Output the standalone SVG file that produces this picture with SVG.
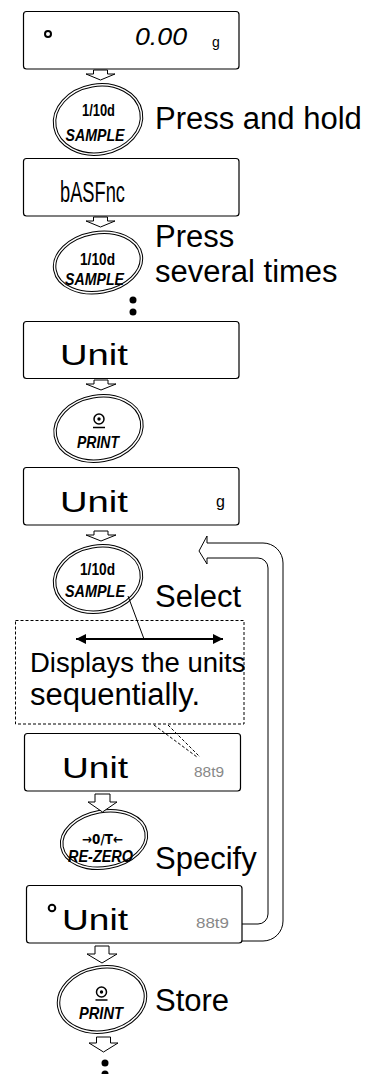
<svg xmlns="http://www.w3.org/2000/svg" width="370" height="1074" viewBox="0 0 370 1074">
<style>
.disp{fill:#fff;stroke:#000;stroke-width:1.2}
.seg{font-family:"Liberation Sans",Arial,sans-serif;fill:#000}
.unit{font-family:"Liberation Sans",Arial,sans-serif;fill:#888;font-size:14px}
.btn{fill:none;stroke:#000;stroke-width:1}
.bt{font-family:"Liberation Sans",Arial,sans-serif;font-weight:bold;fill:#000;text-anchor:middle}
.bi{font-style:italic}
.lbl{font-family:"Liberation Sans",Arial,sans-serif;fill:#000;font-size:31px}
.blk{fill:#fff;stroke:#000;stroke-width:1}
.ln{fill:none;stroke:#000;stroke-width:1}
.dash{fill:none;stroke:#000;stroke-width:1;stroke-dasharray:3,2}
.dot{fill:#000}
</style>
<defs>
<marker id="ah" viewBox="0 0 10 10" refX="10" refY="5" markerWidth="5" markerHeight="5" orient="auto-start-reverse">
<path d="M0,0 L10,5 L0,10 Z" fill="#000"/>
</marker>
</defs>

<g id="display1">
<rect class="disp" x="23.5" y="11.5" width="215.5" height="57.5" rx="3"/>
<circle cx="48" cy="34" r="3" fill="none" stroke="#000" stroke-width="2"/>
<text class="seg" x="135" y="45" font-size="23" font-style="italic" textLength="52" lengthAdjust="spacingAndGlyphs">0.00</text>
<text class="seg" x="212" y="47" font-size="14">g</text>
</g>

<g id="button1">
<ellipse class="btn" cx="98" cy="119.5" rx="45" ry="35.5" transform="rotate(-10 98 119.5)"/>
<ellipse class="btn" cx="98" cy="119.5" rx="42.5" ry="33" transform="rotate(-10 98 119.5)"/>
<text class="bt" x="98.5" y="116" font-size="16" textLength="33" lengthAdjust="spacingAndGlyphs">1/10d</text>
<text class="bt bi" x="95" y="141" font-size="17" textLength="59" lengthAdjust="spacingAndGlyphs">SAMPLE</text>
</g>
<g id="label1"><text class="lbl" x="155" y="129">Press and hold</text></g>

<g id="display2">
<rect class="disp" x="23.5" y="158.5" width="215.5" height="57.5" rx="3"/>
<text class="seg" x="60" y="202" font-size="29" textLength="65" lengthAdjust="spacingAndGlyphs">bASFnc</text>
</g>

<g id="button2">
<ellipse class="btn" cx="98" cy="262.5" rx="45" ry="31" transform="rotate(-10 98 262.5)"/>
<ellipse class="btn" cx="98" cy="262.5" rx="42.5" ry="28.5" transform="rotate(-10 98 262.5)"/>
<text class="bt" x="97.5" y="265" font-size="16" textLength="35" lengthAdjust="spacingAndGlyphs">1/10d</text>
<text class="bt bi" x="94.5" y="285" font-size="17" textLength="59" lengthAdjust="spacingAndGlyphs">SAMPLE</text>
</g>
<g id="label2">
<text class="lbl" x="155" y="247">Press</text>
<text class="lbl" x="155" y="282">several times</text>
</g>
<g id="dots1">
<circle class="dot" cx="133" cy="300" r="3.5"/>
<circle class="dot" cx="133" cy="312" r="3.5"/>
</g>

<g id="display3">
<rect class="disp" x="23.5" y="321.5" width="215.5" height="57" rx="3"/>
<text class="seg" x="60" y="365" font-size="30" textLength="68" lengthAdjust="spacingAndGlyphs">Unit</text>
</g>

<g id="button3">
<ellipse class="btn" cx="98.5" cy="428.5" rx="45" ry="33.5" transform="rotate(-10 98.5 428.5)"/>
<ellipse class="btn" cx="98.5" cy="428.5" rx="42.5" ry="31" transform="rotate(-10 98.5 428.5)"/>
<circle cx="99" cy="419" r="5" fill="none" stroke="#000" stroke-width="1.5"/>
<circle cx="99" cy="419" r="1.7" fill="#000"/>
<line x1="93" y1="427.5" x2="105" y2="427.5" stroke="#000" stroke-width="1.5"/>
<text class="bt bi" x="98" y="448" font-size="17" textLength="42" lengthAdjust="spacingAndGlyphs">PRINT</text>
</g>

<g id="display4">
<rect class="disp" x="23.5" y="467.5" width="215.5" height="57.5" rx="3"/>
<text class="seg" x="60" y="512" font-size="30" textLength="68" lengthAdjust="spacingAndGlyphs">Unit</text>
<text class="seg" x="216" y="507" font-size="16">g</text>
</g>

<g id="button4">
<ellipse class="btn" cx="98" cy="579" rx="45" ry="34" transform="rotate(-10 98 579)"/>
<ellipse class="btn" cx="98" cy="579" rx="42.5" ry="31.5" transform="rotate(-10 98 579)"/>
<text class="bt" x="97.5" y="575" font-size="16" textLength="35" lengthAdjust="spacingAndGlyphs">1/10d</text>
<text class="bt bi" x="95" y="597" font-size="17" textLength="60" lengthAdjust="spacingAndGlyphs">SAMPLE</text>
</g>
<g id="label4"><text class="lbl" x="155" y="607">Select</text></g>

<g id="note">
<rect class="dash" x="15.5" y="620.5" width="228.5" height="103.5"/>
<text class="lbl" x="30" y="672" style="font-size:27.5px">Displays the units</text>
<text class="lbl" x="30" y="705">sequentially.</text>
</g>

<g id="display5">
<rect class="disp" x="24.5" y="733.5" width="216" height="57.5" rx="3"/>
<text class="seg" x="62" y="778" font-size="30" textLength="66" lengthAdjust="spacingAndGlyphs">Unit</text>
<text class="unit" x="194" y="777" textLength="30" lengthAdjust="spacingAndGlyphs">88t9</text>
</g>

<g id="button5">
<ellipse class="btn" cx="104" cy="839.5" rx="44" ry="29.5" transform="rotate(-10 104 839.5)"/>
<ellipse class="btn" cx="104" cy="839.5" rx="41.5" ry="27" transform="rotate(-10 104 839.5)"/>
<text class="bt" x="102.5" y="844" font-size="14" textLength="41" lengthAdjust="spacingAndGlyphs" style="font-family:'DejaVu Sans','Liberation Sans',sans-serif">→0/T←</text>
<text class="bt bi" x="100.5" y="862" font-size="17" textLength="65" lengthAdjust="spacingAndGlyphs">RE-ZERO</text>
</g>
<g id="label5"><text class="lbl" x="155" y="869">Specify</text></g>

<g id="display6">
<rect class="disp" x="26.5" y="885.5" width="215.5" height="57.5" rx="3"/>
<circle cx="52" cy="908" r="3.3" fill="none" stroke="#000" stroke-width="2"/>
<text class="seg" x="62" y="930" font-size="30" textLength="66" lengthAdjust="spacingAndGlyphs">Unit</text>
<text class="unit" x="196" y="928" textLength="33" lengthAdjust="spacingAndGlyphs">88t9</text>
</g>

<g id="button6">
<ellipse class="btn" cx="102" cy="999.5" rx="45" ry="33.5" transform="rotate(-10 102 999.5)"/>
<ellipse class="btn" cx="102" cy="999.5" rx="42.5" ry="31" transform="rotate(-10 102 999.5)"/>
<circle cx="101.5" cy="992" r="5" fill="none" stroke="#000" stroke-width="1.5"/>
<circle cx="101.5" cy="992" r="1.7" fill="#000"/>
<line x1="95.5" y1="1000" x2="107.5" y2="1000" stroke="#000" stroke-width="1.5"/>
<text class="bt bi" x="101" y="1019" font-size="17" textLength="44" lengthAdjust="spacingAndGlyphs">PRINT</text>
</g>
<g id="label6"><text class="lbl" x="155" y="1011">Store</text></g>
<g id="dots2">
<circle class="dot" cx="105" cy="1063" r="3.5"/>
<circle class="dot" cx="105" cy="1074" r="3.5"/>
</g>

<g id="connectors">
<path class="blk" d="M93.5,70 H107.5 V74 H115 L100.5,80 L86,74 H93.5 Z"/>
<path class="blk" d="M93.5,217 H107.5 V221 H115 L100.5,227 L86,221 H93.5 Z"/>
<path class="blk" d="M94,380 H108 V384 H116 L101,390 L86,384 H94 Z"/>
<path class="blk" d="M94,531 H108 V535 H116 L101,541 L86,535 H94 Z"/>
<path class="blk" d="M95,794 H110 V802 H117 L102.5,812 L88,802 H95 Z"/>
<path class="blk" d="M95,946 H109 V954 H117 L102,963 L87,954 H95 Z"/>
<path class="blk" d="M96.5,1037 H110.5 V1043 H118 L103.5,1052 L89,1043 H96.5 Z"/>
<path class="ln" d="M242,941 H263 A20,20 0 0 0 283,921 V563 A20,20 0 0 0 263,543 H207 V536 L199,551 L207,564 V558 H258 A10,10 0 0 1 268,568 V914 A10,10 0 0 1 258,924 H242"/>
<line class="ln" x1="128" y1="596" x2="144" y2="639"/>
<line x1="76" y1="639" x2="223" y2="639" stroke="#000" stroke-width="2" marker-start="url(#ah)" marker-end="url(#ah)"/>
<line class="dash" x1="154" y1="725" x2="197" y2="757"/>
<line class="dash" x1="168" y1="725" x2="200" y2="757"/>
</g>
</svg>
